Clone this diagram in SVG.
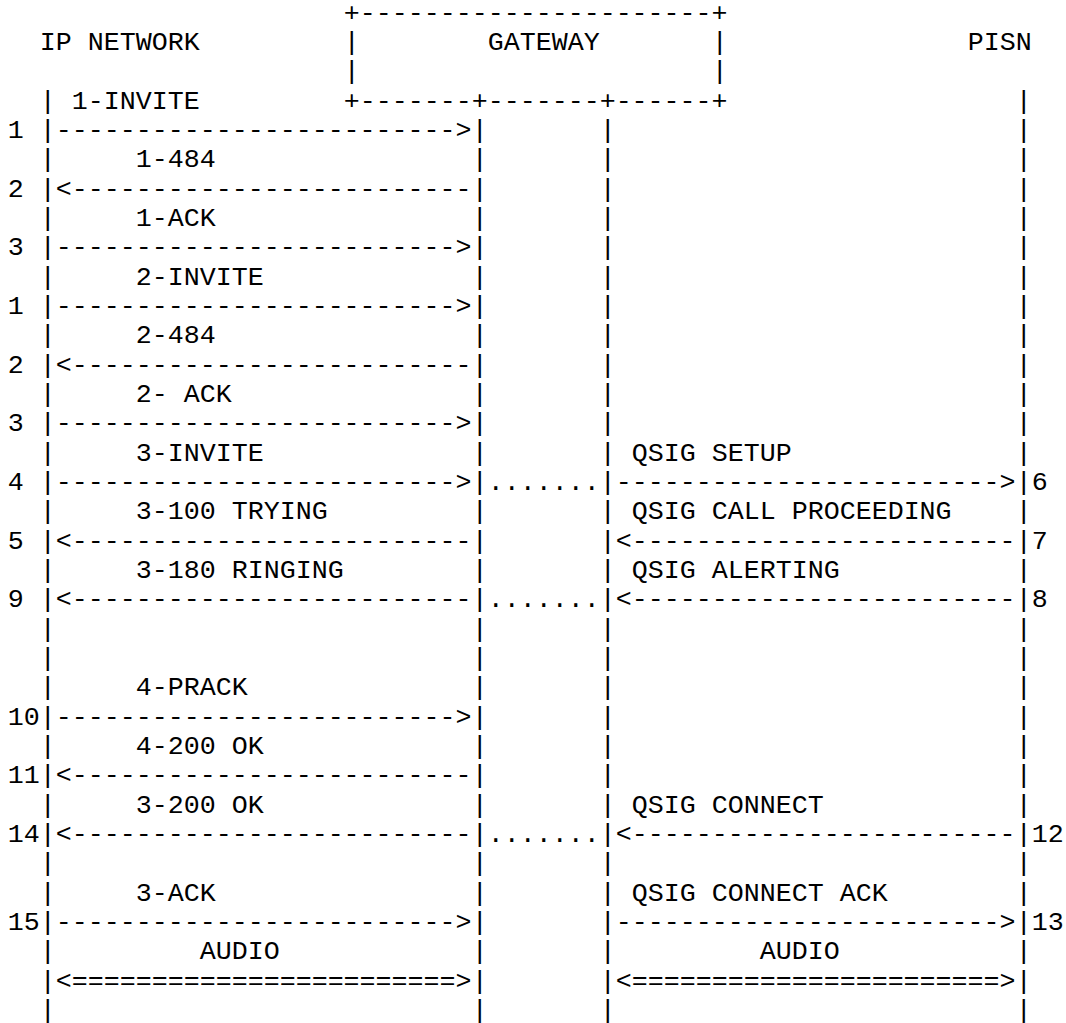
<svg xmlns="http://www.w3.org/2000/svg" width="1066" height="1023" viewBox="0 0 1066 1023">
<style>
text{font-family:"Liberation Mono","Courier New",monospace;font-size:26.66px;fill:#000;white-space:pre}
</style>
<rect width="1066" height="1023" fill="#fff"/>
<g id="ip-network">
<text x="39.7" y="50">IP NETWORK</text>
<text x="39.7 39.7 39.7 39.7 39.7 39.7 39.7 39.7 39.7 39.7 39.7 39.7 39.7 39.7 39.7 39.7 39.7 39.7 39.7 39.7 39.7 39.7 39.7 39.7 39.7 39.7 39.7 39.7 39.7 39.7 39.7 39.7" y="108.7 138 167.4 196.7 226 255.3 284.7 314 343.3 372.7 402 431.3 460.7 490 519.3 548.6 578 607.3 636.6 666 695.3 724.6 754 783.3 812.6 842 871.3 900.6 930 959.3 988.6 1018">||||||||||||||||||||||||||||||||</text>
</g>
<g id="gateway">
<text x="343.7" y="20.7">+----------------------+</text>
<text x="343.7" y="50">|</text>
<text x="487.7" y="50">GATEWAY</text>
<text x="711.7" y="50">|</text>
<text x="343.7" y="79.4">|</text>
<text x="711.7" y="79.4">|</text>
<text x="343.7" y="108.7">+-------+-------+------+</text>
<text x="471.7 471.7 471.7 471.7 471.7 471.7 471.7 471.7 471.7 471.7 471.7 471.7 471.7 471.7 471.7 471.7 471.7 471.7 471.7 471.7 471.7 471.7 471.7 471.7 471.7 471.7 471.7 471.7 471.7 471.7 471.7" y="138 167.4 196.7 226 255.3 284.7 314 343.3 372.7 402 431.3 460.7 490 519.3 548.6 578 607.3 636.6 666 695.3 724.6 754 783.3 812.6 842 871.3 900.6 930 959.3 988.6 1018">|||||||||||||||||||||||||||||||</text>
<text x="599.7 599.7 599.7 599.7 599.7 599.7 599.7 599.7 599.7 599.7 599.7 599.7 599.7 599.7 599.7 599.7 599.7 599.7 599.7 599.7 599.7 599.7 599.7 599.7 599.7 599.7 599.7 599.7 599.7 599.7 599.7" y="138 167.4 196.7 226 255.3 284.7 314 343.3 372.7 402 431.3 460.7 490 519.3 548.6 578 607.3 636.6 666 695.3 724.6 754 783.3 812.6 842 871.3 900.6 930 959.3 988.6 1018">|||||||||||||||||||||||||||||||</text>
</g>
<g id="pisn">
<text x="967.7" y="50">PISN</text>
<text x="1015.7 1015.7 1015.7 1015.7 1015.7 1015.7 1015.7 1015.7 1015.7 1015.7 1015.7 1015.7 1015.7 1015.7 1015.7 1015.7 1015.7 1015.7 1015.7 1015.7 1015.7 1015.7 1015.7 1015.7 1015.7 1015.7 1015.7 1015.7 1015.7 1015.7 1015.7 1015.7" y="108.7 138 167.4 196.7 226 255.3 284.7 314 343.3 372.7 402 431.3 460.7 490 519.3 548.6 578 607.3 636.6 666 695.3 724.6 754 783.3 812.6 842 871.3 900.6 930 959.3 988.6 1018">||||||||||||||||||||||||||||||||</text>
</g>
<g id="connectors">
<text x="71.7" y="108.7">1-INVITE</text>
<text x="7.7" y="138">1</text><text x="55.7" y="138">-------------------------&gt;</text>
<text x="135.7" y="167.4">1-484</text>
<text x="7.7" y="196.7">2</text><text x="55.7" y="196.7">&lt;-------------------------</text>
<text x="135.7" y="226">1-ACK</text>
<text x="7.7" y="255.3">3</text><text x="55.7" y="255.3">-------------------------&gt;</text>
<text x="135.7" y="284.7">2-INVITE</text>
<text x="7.7" y="314">1</text><text x="55.7" y="314">-------------------------&gt;</text>
<text x="135.7" y="343.3">2-484</text>
<text x="7.7" y="372.7">2</text><text x="55.7" y="372.7">&lt;-------------------------</text>
<text x="135.7" y="402">2- ACK</text>
<text x="7.7" y="431.3">3</text><text x="55.7" y="431.3">-------------------------&gt;</text>
<text x="135.7" y="460.7">3-INVITE</text>
<text x="631.7" y="460.7">QSIG SETUP</text>
<text x="7.7" y="490">4</text><text x="55.7" y="490">-------------------------&gt;</text>
<text x="487.7" y="490">.......</text>
<text x="615.7" y="490">------------------------&gt;</text><text x="1031.7" y="490">6</text>
<text x="135.7" y="519.3">3-100 TRYING</text>
<text x="631.7" y="519.3">QSIG CALL PROCEEDING</text>
<text x="7.7" y="548.6">5</text><text x="55.7" y="548.6">&lt;-------------------------</text>
<text x="615.7" y="548.6">&lt;------------------------</text><text x="1031.7" y="548.6">7</text>
<text x="135.7" y="578">3-180 RINGING</text>
<text x="631.7" y="578">QSIG ALERTING</text>
<text x="7.7" y="607.3">9</text><text x="55.7" y="607.3">&lt;-------------------------</text>
<text x="487.7" y="607.3">.......</text>
<text x="615.7" y="607.3">&lt;------------------------</text><text x="1031.7" y="607.3">8</text>
<text x="135.7" y="695.3">4-PRACK</text>
<text x="7.7" y="724.6">10</text><text x="55.7" y="724.6">-------------------------&gt;</text>
<text x="135.7" y="754">4-200 OK</text>
<text x="7.7" y="783.3">11</text><text x="55.7" y="783.3">&lt;-------------------------</text>
<text x="135.7" y="812.6">3-200 OK</text>
<text x="631.7" y="812.6">QSIG CONNECT</text>
<text x="7.7" y="842">14</text><text x="55.7" y="842">&lt;-------------------------</text>
<text x="487.7" y="842">.......</text>
<text x="615.7" y="842">&lt;------------------------</text><text x="1031.7" y="842">12</text>
<text x="135.7" y="900.6">3-ACK</text>
<text x="631.7" y="900.6">QSIG CONNECT ACK</text>
<text x="7.7" y="930">15</text><text x="55.7" y="930">-------------------------&gt;</text>
<text x="615.7" y="930">------------------------&gt;</text><text x="1031.7" y="930">13</text>
<text x="199.7" y="959.3">AUDIO</text>
<text x="759.7" y="959.3">AUDIO</text>
<text x="55.7" y="988.6">&lt;========================&gt;</text>
<text x="615.7" y="988.6">&lt;=======================&gt;</text>
</g>
</svg>
